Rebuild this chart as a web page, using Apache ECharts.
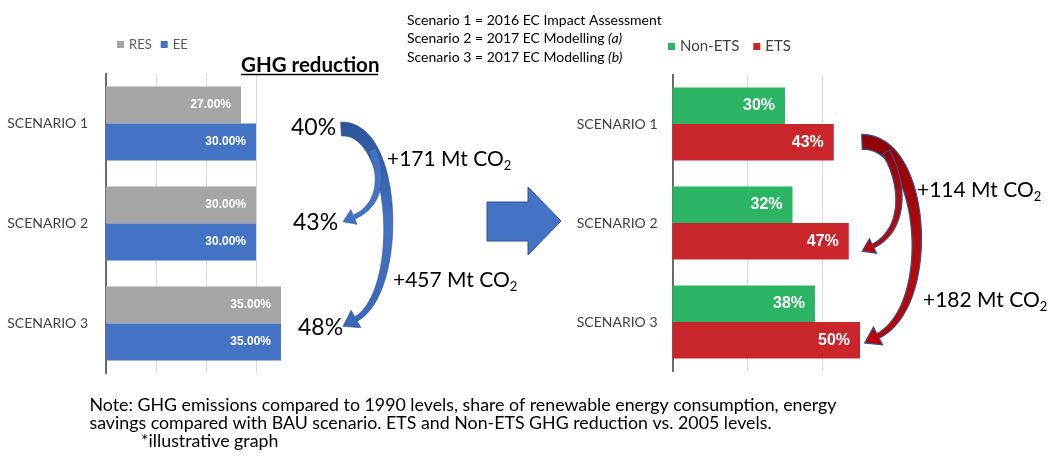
<!DOCTYPE html>
<html><head><meta charset="utf-8">
<script src="https://cdn.jsdelivr.net/npm/echarts@6/dist/echarts.min.js"></script>
<style>html,body{margin:0;padding:0;background:#fff}#c{width:1055px;height:461px}</style>
</head><body><div id="c"></div>
<script>
// ---- data ----
const scenarios = ['SCENARIO 1', 'SCENARIO 2', 'SCENARIO 3'];
const resValues = [27, 30, 35];
const eeValues = [30, 30, 35];
const nonEtsValues = [30, 32, 38];
const etsValues = [43, 47, 50];
const ghgReduction = ['40%', '43%', '48%'];
const ghgDeltas = ['+171 Mt CO', '+457 Mt CO'];
const etsDeltas = ['+114 Mt CO', '+182 Mt CO'];
const scenarioNotes = [
  ['Scenario 1 = 2016 EC Impact Assessment', ''],
  ['Scenario 2 = 2017 EC Modelling ', '(a)'],
  ['Scenario 3 = 2017 EC Modelling ', '(b)']
];
const noteLines = [
  'Note: GHG emissions compared to 1990 levels, share of renewable energy consumption, energy',
  'savings compared with BAU scenario. ETS and Non-ETS GHG reduction vs. 2005 levels.',
  '*illustrative graph'
];

const FONT = 'Lato';
const chart = echarts.init(document.getElementById('c'), null, {renderer: 'canvas'});

function curvedArrow(p0, p1, p2, p3, w0, w1, headLen, headW) {
  const N = 48, L = [], R = [];
  let endPt, endDir;
  for (let i = 0; i <= N; i++) {
    const t = i / N, mt = 1 - t;
    const x = mt*mt*mt*p0[0] + 3*mt*mt*t*p1[0] + 3*mt*t*t*p2[0] + t*t*t*p3[0];
    const y = mt*mt*mt*p0[1] + 3*mt*mt*t*p1[1] + 3*mt*t*t*p2[1] + t*t*t*p3[1];
    const dx = 3*mt*mt*(p1[0]-p0[0]) + 6*mt*t*(p2[0]-p1[0]) + 3*t*t*(p3[0]-p2[0]);
    const dy = 3*mt*mt*(p1[1]-p0[1]) + 6*mt*t*(p2[1]-p1[1]) + 3*t*t*(p3[1]-p2[1]);
    const len = Math.hypot(dx, dy) || 1;
    const ux = dx/len, uy = dy/len, nx = -uy, ny = ux;
    const w = (w0 + (w1 - w0) * t) / 2;
    L.push([x + nx*w, y + ny*w]);
    R.push([x - nx*w, y - ny*w]);
    if (i === N) { endPt = [x, y]; endDir = [ux, uy]; }
  }
  const nx = -endDir[1], ny = endDir[0];
  const head = [
    [endPt[0] + nx*headW, endPt[1] + ny*headW],
    [endPt[0] + endDir[0]*headLen, endPt[1] + endDir[1]*headLen],
    [endPt[0] - nx*headW, endPt[1] - ny*headW]
  ];
  return L.concat(head, R.reverse());
}

const blueGrad = new echarts.graphic.LinearGradient(0, 0, 0, 1, [
  {offset: 0, color: '#2B5398'}, {offset: 0.5, color: '#4472C4'}, {offset: 1, color: '#3A66B8'}]);
const redGrad = new echarts.graphic.LinearGradient(0, 0, 0, 1, [
  {offset: 0, color: '#8E0000'}, {offset: 0.5, color: '#B50A0A'}, {offset: 1, color: '#C00000'}]);

function deltaText(txt, x, y) {
  return {type: 'text', z: 20, style: {
    text: '{a|' + txt + '}{s|2}', x: x, y: y, verticalAlign: 'middle', align: 'left',
    rich: {
      a: {font: '21px ' + FONT, fill: '#000', lineHeight: 26},
      s: {font: '13px ' + FONT, fill: '#000', lineHeight: 14, verticalAlign: 'bottom'}
    }
  }};
}

const graphics = [];
// title
graphics.push({type: 'text', z: 20, style: {text: 'GHG reduction', x: 241, y: 65, font: 'bold 20.5px ' + FONT, fill: '#000', verticalAlign: 'middle'}});
graphics.push({type: 'line', z: 20, shape: {x1: 241, y1: 74.5, x2: 378, y2: 74.5}, style: {stroke: '#000', lineWidth: 1.4}});
// scenario notes
scenarioNotes.forEach((n, i) => {
  graphics.push({type: 'text', z: 20, style: {
    text: '{r|' + n[0] + '}' + (n[1] ? '{i|' + n[1] + '}' : ''), x: 407, y: 20 + i * 18.8, verticalAlign: 'middle',
    rich: {r: {font: '14px ' + FONT, fill: '#000'}, i: {font: 'italic 14px ' + FONT, fill: '#000'}}
  }});
});
// note lines
noteLines.forEach((t, i) => {
  graphics.push({type: 'text', z: 20, style: {text: t, x: i === 2 ? 141 : 89.5, y: 405 + i * 18.3, verticalAlign: 'middle', font: '17.8px ' + FONT, fill: '#000'}});
});
// GHG reduction numbers
const ghgPos = [[291, 128], [293, 223], [298, 328]];
ghgReduction.forEach((t, i) => {
  graphics.push({type: 'text', z: 20, style: {text: t, x: ghgPos[i][0], y: ghgPos[i][1], verticalAlign: 'middle', font: '23px ' + FONT, fill: '#000'}});
});
graphics.push(deltaText(ghgDeltas[0], 387, 159));
graphics.push(deltaText(ghgDeltas[1], 393, 280));
graphics.push(deltaText(etsDeltas[0], 917, 190));
graphics.push(deltaText(etsDeltas[1], 923, 300));
// left curved arrows
graphics.push({type: 'polygon', z: 15, shape: {points: curvedArrow([341, 129], [398, 126], [404, 292], [356, 319], 14, 5, 15, 10)},
  style: {fill: blueGrad, stroke: '#2F528F', lineWidth: 0.6}});
graphics.push({type: 'polygon', z: 16, shape: {points: curvedArrow([372, 150], [384, 176], [380, 206], [354, 217], 8, 4, 12, 8)},
  style: {fill: '#4472C4', stroke: '#2F528F', lineWidth: 0.6}});
// central block arrow
graphics.push({type: 'polygon', z: 15, shape: {points: [[487, 202], [528, 202], [528, 187], [561, 221], [528, 255], [528, 241], [487, 241]]},
  style: {fill: '#4472C4', stroke: '#2F528F', lineWidth: 1}});
// right curved arrows
graphics.push({type: 'polygon', z: 15, shape: {points: curvedArrow([862, 142], [925, 140], [938, 305], [878, 336], 15, 5, 15, 10)},
  style: {fill: redGrad, stroke: '#2F528F', lineWidth: 1.2}});
graphics.push({type: 'polygon', z: 16, shape: {points: curvedArrow([886, 152], [905, 185], [905, 230], [873, 246], 8, 4, 12, 8)},
  style: {fill: redGrad, stroke: '#2F528F', lineWidth: 1.2}});

const catLabel = {fontFamily: FONT, fontSize: 14, color: '#404040'};
const barLabel = (size, dec) => ({
  show: true, position: 'insideRight', distance: 10, color: '#fff', fontWeight: 'bold',
  fontFamily: 'Liberation Sans', fontSize: size,
  formatter: p => p.value.toFixed(dec) + '%'
});

const option = {
  animation: false,
  backgroundColor: '#fff',
  legend: [
    {data: ['RES', 'EE'], left: 112, top: 33, icon: 'rect', itemWidth: 7, itemHeight: 7, itemGap: 9,
      textStyle: {fontFamily: FONT, fontSize: 13, color: '#595959'}, selectedMode: false},
    {data: ['Non-ETS', 'ETS'], left: 663, top: 34, icon: 'rect', itemWidth: 7, itemHeight: 7, itemGap: 14,
      textStyle: {fontFamily: FONT, fontSize: 15, color: '#404040'}, selectedMode: false}
  ],
  grid: [
    {left: 106, top: 73.5, width: 200, height: 300},
    {left: 672.5, top: 74.5, width: 225, height: 297}
  ],
  xAxis: [
    {gridIndex: 0, type: 'value', min: 0, max: 40, interval: 10, axisLine: {show: false}, axisTick: {show: false}, axisLabel: {show: false},
      splitLine: {show: true, showMaxLine: false, lineStyle: {color: '#d9d9d9', width: 1}}},
    {gridIndex: 1, type: 'value', min: 0, max: 60, interval: 20, axisLine: {show: false}, axisTick: {show: false}, axisLabel: {show: false},
      splitLine: {show: true, showMaxLine: false, lineStyle: {color: '#d9d9d9', width: 1}}}
  ],
  yAxis: [
    {gridIndex: 0, type: 'category', data: scenarios, inverse: true, axisTick: {show: false},
      axisLine: {show: true, lineStyle: {color: '#404040', width: 1.5}}, axisLabel: Object.assign({margin: 18}, catLabel)},
    {gridIndex: 1, type: 'category', data: scenarios, inverse: true, axisTick: {show: false},
      axisLine: {show: true, lineStyle: {color: '#404040', width: 1.5}}, axisLabel: Object.assign({margin: 15}, catLabel)}
  ],
  series: [
    {name: 'RES', type: 'bar', xAxisIndex: 0, yAxisIndex: 0, data: resValues, barWidth: 37, barGap: '0%',
      itemStyle: {color: '#A5A5A5'}, label: barLabel(12, 2)},
    {name: 'EE', type: 'bar', xAxisIndex: 0, yAxisIndex: 0, data: eeValues, barWidth: 37, barGap: '0%',
      itemStyle: {color: '#4472C4'}, label: barLabel(12, 2)},
    {name: 'Non-ETS', type: 'bar', xAxisIndex: 1, yAxisIndex: 1, data: nonEtsValues, barWidth: 36.5, barGap: '0%',
      itemStyle: {color: '#2AB463'}, label: barLabel(16, 0)},
    {name: 'ETS', type: 'bar', xAxisIndex: 1, yAxisIndex: 1, data: etsValues, barWidth: 36.5, barGap: '0%',
      itemStyle: {color: '#C9262C'}, label: barLabel(16, 0)}
  ],
  graphic: graphics
};
chart.setOption(option);
</script></body></html>
